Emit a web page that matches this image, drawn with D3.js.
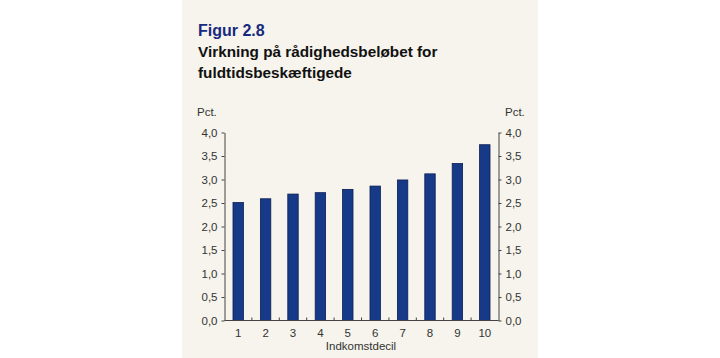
<!DOCTYPE html>
<html><head><meta charset="utf-8">
<script src="https://cdn.jsdelivr.net/npm/d3@7"></script>
<style>
body{margin:0;background:#fff;}
svg{display:block;font-family:"Liberation Sans",Arial,sans-serif;}
</style></head>
<body><svg id="c" width="720" height="358"></svg>
<script>
const categories = ["1","2","3","4","5","6","7","8","9","10"];
const values = [2.51, 2.59, 2.69, 2.72, 2.79, 2.86, 2.99, 3.12, 3.34, 3.74];
const yTicks = [0, 0.5, 1.0, 1.5, 2.0, 2.5, 3.0, 3.5, 4.0];
const titleLines = ["Virkning på rådighedsbeløbet for", "fuldtidsbeskæftigede"];

const svg = d3.select("#c");
svg.append("rect").attr("x",182).attr("y",0).attr("width",356).attr("height",358).attr("fill","#f6f4ec");

svg.append("text").attr("x",198).attr("y",35.5).attr("font-size",16).attr("font-weight","bold").attr("fill","#172a80").text("Figur 2.8");
titleLines.forEach((t,i)=>{
  svg.append("text").attr("x",198).attr("y",56.5+i*21.5).attr("font-size",15.3).attr("font-weight","bold").attr("fill","#111").text(t);
});

const L=224.5, R=498.5, T=132.5, B=320.5;
const x = d3.scaleBand().domain(categories).range([L,R]).paddingInner(0.62).paddingOuter(0.31);
const y = d3.scaleLinear().domain([0,4]).range([B,T]);
const fmt = d => d3.format(".1f")(d).replace(".",",");

const g = svg.append("g");
g.selectAll("rect.bar").data(values).join("rect").attr("class","bar")
  .attr("x",(d,i)=>x(categories[i])).attr("width",x.bandwidth())
  .attr("y",d=>y(d)).attr("height",d=>B-y(d))
  .attr("fill","#173a88").attr("stroke","#0b1d55").attr("stroke-width",0.8);

const axL = svg.append("g").attr("transform",`translate(${L},0)`)
  .call(d3.axisLeft(y).tickValues(yTicks).tickFormat(fmt).tickSize(3).tickSizeOuter(0));
const axR = svg.append("g").attr("transform",`translate(${R},0)`)
  .call(d3.axisRight(y).tickValues(yTicks).tickFormat(fmt).tickSize(3).tickSizeOuter(0));
[axL,axR].forEach(a=>{
  a.selectAll("path,line").attr("stroke","#444").attr("stroke-width",1);
  a.selectAll("text").attr("font-size",11.5).attr("fill","#333").attr("font-family","Liberation Sans, Arial, sans-serif");
});
axL.selectAll("text").attr("x",-7);
axR.selectAll("text").attr("x",7);

// x axis line with ticks between categories pointing up
const xb = d3.scaleLinear().domain([0,10]).range([L,R]);
svg.append("line").attr("x1",L).attr("x2",R).attr("y1",B).attr("y2",B).attr("stroke","#444");
svg.selectAll("line.xt").data(d3.range(1,10)).join("line").attr("class","xt")
  .attr("x1",d=>xb(d)).attr("x2",d=>xb(d)).attr("y1",B).attr("y2",B-3).attr("stroke","#444");
svg.selectAll("text.xl").data(categories).join("text").attr("class","xl")
  .attr("x",d=>x(d)+x.bandwidth()/2).attr("y",B+16).attr("text-anchor","middle")
  .attr("font-size",11.5).attr("fill","#333").text(d=>d);

svg.append("text").attr("x",361).attr("y",350).attr("text-anchor","middle").attr("font-size",11.5).attr("fill","#333").text("Indkomstdecil");
svg.append("text").attr("x",197).attr("y",116).attr("font-size",11.5).attr("fill","#333").text("Pct.");
svg.append("text").attr("x",505).attr("y",116).attr("font-size",11.5).attr("fill","#333").text("Pct.");
</script></body></html>
